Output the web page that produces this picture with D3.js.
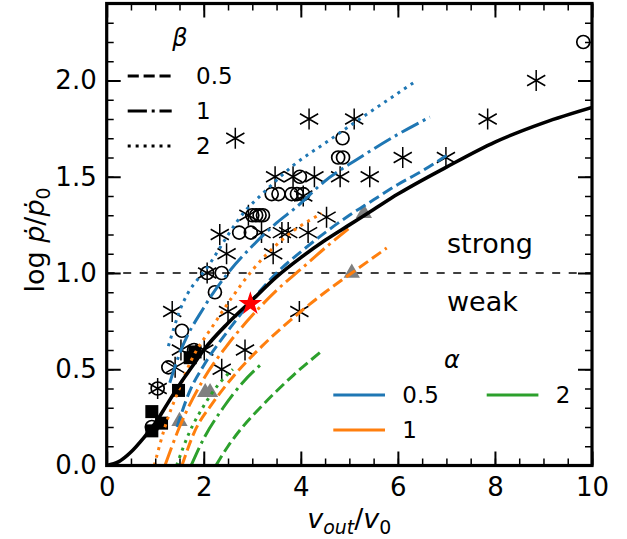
<!DOCTYPE html>
<html>
<head>
<meta charset="utf-8">
<script src="https://cdn.jsdelivr.net/npm/d3@7"></script>
<style>
  html, body { margin: 0; padding: 0; background: #fff; }
  svg { display: block; }
  text { font-family: "DejaVu Sans", sans-serif; fill: #000; }
  .it { font-style: italic; }
</style>
</head>
<body>
<svg id="chart" width="627" height="539"></svg>
<script>
// ---- axis ticks ----
const xTicks = [0, 2, 4, 6, 8, 10];
const yTicks = [0, 0.5, 1.0, 1.5, 2.0];
const xMinor = d3.range(0, 10.01, 0.5);
const yMinor = d3.range(0, 2.401, 0.1);

// ---- model curve ----
const modelV = [0, 0.25, 0.5, 0.75, 1, 1.25, 1.5, 1.75, 2, 2.5, 3, 3.5, 4, 4.5, 5, 5.5, 6, 7, 8, 9, 10];
const modelY = [0, 0.02, 0.07, 0.14, 0.22, 0.32, 0.42, 0.51, 0.60, 0.74, 0.86, 0.98, 1.08, 1.17, 1.25, 1.33, 1.41, 1.55, 1.68, 1.78, 1.86];

// ---- parametric tracks: alpha = 0.5 (blue), 1 (orange), 2 (green); beta = 0.5 dashed, 1 dash-dot, 2 dotted ----
const a05b05V = [1.45, 1.7, 2.0, 2.5, 3.0, 3.5, 4.0, 4.5, 5.0, 5.5, 6.0, 6.5, 7.0];
const a05b05Y = [0.20, 0.38, 0.52, 0.70, 0.86, 1.00, 1.11, 1.21, 1.30, 1.38, 1.46, 1.53, 1.61];
const a05b1V = [1.30, 1.5, 2.0, 2.5, 3.0, 3.5, 3.92, 4.46, 5.22, 6.0, 6.66];
const a05b1Y = [0.43, 0.58, 0.82, 1.00, 1.14, 1.26, 1.345, 1.47, 1.60, 1.72, 1.81];
const a05b2V = [1.27, 1.5, 2.13, 2.88, 3.16, 3.85, 4.53, 5.10, 5.8, 6.39];
const a05b2Y = [0.62, 0.80, 1.05, 1.33, 1.40, 1.56, 1.68, 1.78, 1.90, 2.00];

const a1b05V = [1.55, 1.8, 2.2, 2.6, 3.2, 4.0, 4.5, 5.05, 5.77];
const a1b05Y = [0.0, 0.17, 0.33, 0.46, 0.62, 0.80, 0.90, 1.00, 1.13];
const a1b1V = [1.2, 1.5, 2.0, 2.5, 3.0, 3.5, 4.0, 4.5, 4.98];
const a1b1Y = [0.0, 0.20, 0.45, 0.63, 0.78, 0.91, 1.02, 1.13, 1.23];
const a1b2V = [0.98, 1.2, 1.48, 1.75, 2.2, 2.6, 3.02, 3.6, 4.43];
const a1b2Y = [0.0, 0.20, 0.39, 0.55, 0.73, 0.88, 1.02, 1.17, 1.31];

const a2b05V = [2.25, 2.5, 2.8, 3.2, 3.85, 4.46];
const a2b05Y = [0.0, 0.10, 0.20, 0.31, 0.47, 0.60];
const a2b1V = [1.74, 2.0, 2.4, 2.8, 3.2];
const a2b1Y = [0.0, 0.14, 0.30, 0.43, 0.53];
const a2b2V = [1.44, 1.7, 2.0, 2.3, 2.6];
const a2b2Y = [0.0, 0.17, 0.31, 0.42, 0.50];

// ---- observed sources ----
const starV = [2.65, 4.17, 5.10, 6.10, 6.99, 7.85, 8.85,
  3.47, 3.84, 4.28, 4.81, 5.42, 4.05, 2.92, 4.53,
  2.33, 3.19, 3.61, 3.74, 4.15, 2.47, 3.43, 2.07,
  1.35, 2.50, 3.97, 1.53, 2.01, 2.85, 1.41, 2.37, 1.05];
const starY = [1.70, 1.80, 1.80, 1.60, 1.60, 1.80, 2.00,
  1.50, 1.50, 1.50, 1.50, 1.50, 1.40, 1.30, 1.29,
  1.20, 1.21, 1.21, 1.21, 1.21, 1.10, 1.10, 1.00,
  0.80, 0.80, 0.80, 0.60, 0.60, 0.60, 0.51, 0.50, 0.40];

const ringV = [9.82, 4.86, 4.77, 4.87, 3.98, 3.40, 3.54, 3.81, 3.92, 4.05,
  3.00, 3.08, 3.15, 3.22, 2.73, 2.97, 2.07, 2.37, 2.23, 1.55, 1.80, 1.27, 1.05, 0.93];
const ringY = [2.20, 1.70, 1.60, 1.60, 1.50, 1.41, 1.41, 1.41, 1.41, 1.41,
  1.30, 1.30, 1.30, 1.30, 1.21, 1.21, 1.00, 1.00, 0.90, 0.70, 0.60, 0.51, 0.40, 0.20];

const boxV = [0.93, 0.93, 1.13, 1.48, 1.72, 1.82];
const boxY = [0.28, 0.18, 0.22, 0.39, 0.56, 0.59];

const triV = [1.50, 2.03, 2.13, 5.05, 5.30];
const triY = [0.23, 0.38, 0.38, 1.00, 1.31];

const redV = [2.96];
const redY = [0.84];

const alphaLabels = ["0.5", "1", "2"];
const betaLabels = ["0.5", "1", "2"];

// ---- layout ----
const svg = d3.select("#chart");
const L = 106.7, R = 592, T = 3.5, B = 465.5;
const x = d3.scaleLinear().domain([0, 10]).range([L, R]);
const y = d3.scaleLinear().domain([0, 2.4]).range([B, T]);

const blue = "#1f77b4", orange = "#ff7f0e", green = "#2ca02c";
const LW = 3;
const dash = {
  dashed: `${3.7 * LW},${1.6 * LW}`,
  dashdot: `${6.4 * LW},${1.6 * LW},${1 * LW},${1.6 * LW}`,
  dotted: `${1 * LW},${1.65 * LW}`
};

const plot = svg.append("g");
plot.append("clipPath").attr("id", "clip")
  .append("rect").attr("x", L).attr("y", T).attr("width", R - L).attr("height", B - T);
const inner = plot.append("g").attr("clip-path", "url(#clip)");

// boundary between strong and weak
inner.append("line")
  .attr("x1", x(0)).attr("x2", x(10)).attr("y1", y(1)).attr("y2", y(1))
  .attr("stroke", "#000").attr("stroke-width", 1.6).attr("stroke-dasharray", "8,8.5");

// asterisk glyph (six arms)
const ast = r => {
  const c = r * Math.cos(Math.PI / 6), s = r * Math.sin(Math.PI / 6);
  return `M0,${-r}L0,${r}M${-c},${-s}L${c},${s}M${-c},${s}L${c},${-s}`;
};

inner.append("g").selectAll("path").data(d3.range(starV.length)).join("path")
  .attr("transform", i => `translate(${x(starV[i])},${y(starY[i])})`)
  .attr("d", ast(10.5)).attr("stroke", "#000").attr("stroke-width", 1.5).attr("fill", "none");

inner.append("g").selectAll("circle").data(d3.range(ringV.length)).join("circle")
  .attr("cx", i => x(ringV[i])).attr("cy", i => y(ringY[i])).attr("r", 6.5)
  .attr("fill", "none").attr("stroke", "#000").attr("stroke-width", 1.7);

inner.append("g").selectAll("rect").data(d3.range(boxV.length)).join("rect")
  .attr("x", i => x(boxV[i]) - 6.5).attr("y", i => y(boxY[i]) - 6.5)
  .attr("width", 13).attr("height", 13).attr("fill", "#000");

const triPath = d3.symbol(d3.symbolTriangle, 115)();
inner.append("g").selectAll("path").data(d3.range(triV.length)).join("path")
  .attr("transform", i => `translate(${x(triV[i])},${y(triY[i])})`)
  .attr("d", triPath).attr("fill", "#808080");

// model tracks
const line = d3.line().x(d => x(d[0])).y(d => y(d[1])).curve(d3.curveMonotoneX);
const zip = (a, b) => a.map((v, i) => [v, b[i]]);
const tracks = [
  [a05b05V, a05b05Y, blue, "dashed"], [a05b1V, a05b1Y, blue, "dashdot"], [a05b2V, a05b2Y, blue, "dotted"],
  [a1b05V, a1b05Y, orange, "dashed"], [a1b1V, a1b1Y, orange, "dashdot"], [a1b2V, a1b2Y, orange, "dotted"],
  [a2b05V, a2b05Y, green, "dashed"], [a2b1V, a2b1Y, green, "dashdot"], [a2b2V, a2b2Y, green, "dotted"]
];
inner.append("g").selectAll("path").data(tracks).join("path")
  .attr("d", d => line(zip(d[0], d[1])))
  .attr("fill", "none").attr("stroke", d => d[2]).attr("stroke-width", LW)
  .attr("stroke-dasharray", d => dash[d[3]]);

inner.append("path").attr("d", line(zip(modelV, modelY)))
  .attr("fill", "none").attr("stroke", "#000").attr("stroke-width", 3.6);

const starPath = d3.symbol(d3.symbolStar, 175)();
inner.append("g").selectAll("path").data(d3.range(redV.length)).join("path")
  .attr("transform", i => `translate(${x(redV[i])},${y(redY[i])})`)
  .attr("d", starPath).attr("fill", "#ff0000");

// ---- axes ----
const fs = 26;
const styleAxis = g => {
  g.select(".domain").remove();
  g.selectAll(".tick line").attr("stroke", "#000").attr("stroke-width", 2);
  g.selectAll(".tick text").attr("font-size", fs).attr("font-family", "DejaVu Sans");
};
const major = 14, minor = 7;
svg.append("g").attr("transform", `translate(0,${B})`)
  .call(d3.axisBottom(x).tickValues(xMinor).tickSize(-minor).tickFormat(""))
  .call(styleAxis).selectAll(".tick line").attr("stroke-width", 1.5);
svg.append("g").attr("transform", `translate(0,${B})`)
  .call(d3.axisBottom(x).tickValues(xTicks).tickSize(-major).tickPadding(12).tickFormat(d3.format("d")))
  .call(styleAxis);
svg.append("g").attr("transform", `translate(0,${T})`)
  .call(d3.axisTop(x).tickValues(xMinor).tickSize(-minor).tickFormat(""))
  .call(styleAxis).selectAll(".tick line").attr("stroke-width", 1.5);
svg.append("g").attr("transform", `translate(0,${T})`)
  .call(d3.axisTop(x).tickValues(xTicks).tickSize(-major).tickFormat(""))
  .call(styleAxis);
svg.append("g").attr("transform", `translate(${L},0)`)
  .call(d3.axisLeft(y).tickValues(yMinor).tickSize(-minor).tickFormat(""))
  .call(styleAxis).selectAll(".tick line").attr("stroke-width", 1.5);
svg.append("g").attr("transform", `translate(${L},0)`)
  .call(d3.axisLeft(y).tickValues(yTicks).tickSize(-major).tickPadding(10).tickFormat(d3.format(".1f")))
  .call(styleAxis);
svg.append("g").attr("transform", `translate(${R},0)`)
  .call(d3.axisRight(y).tickValues(yMinor).tickSize(-minor).tickFormat(""))
  .call(styleAxis).selectAll(".tick line").attr("stroke-width", 1.5);
svg.append("g").attr("transform", `translate(${R},0)`)
  .call(d3.axisRight(y).tickValues(yTicks).tickSize(-major).tickFormat(""))
  .call(styleAxis);

// frame
svg.append("rect").attr("x", L).attr("y", T).attr("width", R - L).attr("height", B - T)
  .attr("fill", "none").attr("stroke", "#000").attr("stroke-width", 3.2);

// ---- axis titles ----
const lfs = 27;
const xl = svg.append("text").attr("x", (L + R) / 2).attr("y", 528)
  .attr("text-anchor", "middle").attr("font-size", lfs);
xl.append("tspan").attr("class", "it").text("v");
xl.append("tspan").attr("class", "it").attr("font-size", lfs * 0.7).attr("dy", 6).text("out");
xl.append("tspan").attr("dy", -6).text("/");
xl.append("tspan").attr("class", "it").text("v");
xl.append("tspan").attr("font-size", lfs * 0.7).attr("dy", 6).text("0");

const yl = svg.append("text").attr("transform", `translate(44,240) rotate(-90)`)
  .attr("text-anchor", "middle").attr("font-size", lfs);
yl.append("tspan").text("log ");
yl.append("tspan").attr("class", "it").text("ṗ");
yl.append("tspan").text("/");
yl.append("tspan").attr("class", "it").text("ṗ");
yl.append("tspan").attr("font-size", lfs * 0.7).attr("dy", 6).text("0");

// ---- regime annotations ----
svg.append("text").attr("x", 447).attr("y", 253).attr("font-size", 27).text("strong");
svg.append("text").attr("x", 447).attr("y", 311).attr("font-size", 27).text("weak");

// ---- beta legend (line style) ----
const betaStyles = ["dashed", "dashdot", "dotted"];
const lg1 = svg.append("g");
lg1.append("text").attr("class", "it").attr("x", 180).attr("y", 38)
  .attr("text-anchor", "middle").attr("dominant-baseline", "central").attr("font-size", 24).text("β");
betaLabels.forEach((t, i) => {
  const yy = 76 + i * 35;
  lg1.append("line").attr("x1", 127.7).attr("x2", 171.7).attr("y1", yy).attr("y2", yy)
    .attr("stroke", "#000").attr("stroke-width", LW).attr("stroke-dasharray", dash[betaStyles[i]]);
  lg1.append("text").attr("x", 196).attr("y", yy).attr("dominant-baseline", "central")
    .attr("font-size", 23).text(t);
});

// ---- alpha legend (colour) ----
const alphaColors = [blue, orange, green];
const alphaPos = [[333.3, 395], [333.3, 430], [486.7, 395]];
const lg2 = svg.append("g");
lg2.append("text").attr("class", "it").attr("x", 452).attr("y", 360)
  .attr("text-anchor", "middle").attr("dominant-baseline", "central").attr("font-size", 24).text("α");
alphaLabels.forEach((t, i) => {
  const [px, py] = alphaPos[i];
  lg2.append("line").attr("x1", px).attr("x2", px + 51.7).attr("y1", py).attr("y2", py)
    .attr("stroke", alphaColors[i]).attr("stroke-width", LW);
  lg2.append("text").attr("x", px + 69).attr("y", py).attr("dominant-baseline", "central")
    .attr("font-size", 23).text(t);
});
</script>
</body>
</html>
